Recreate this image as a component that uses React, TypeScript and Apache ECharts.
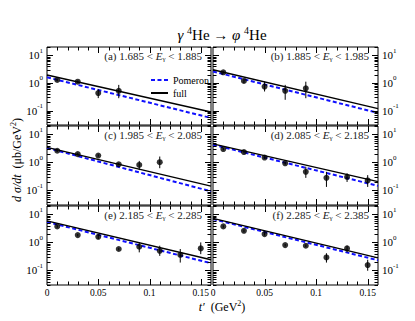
import React, { useEffect, useRef } from 'react';
import * as echarts from 'echarts';

// ---------- data ----------
const panelTags = ['(a)', '(b)', '(c)', '(d)', '(e)', '(f)'];
const eLow = ['1.685', '1.885', '1.985', '2.085', '2.185', '2.285'];
const eHigh = ['1.885', '1.985', '2.085', '2.185', '2.285', '2.385'];

const lineT = [0, 0.16];
const fullA = [1.94, 0.089];
const pomA = [1.6, 0.054];
const fullB = [3.0, 0.118];
const pomB = [2.6, 0.082];
const fullC = [3.44, 0.142];
const pomC = [3.3, 0.092];
const fullD = [4.57, 0.205];
const pomD = [4.3, 0.145];
const fullE = [5.9, 0.24];
const pomE = [5.4, 0.18];
const fullF = [7.2, 0.28];
const pomF = [6.8, 0.23];

const tA = [0.01, 0.03, 0.05, 0.07];
const yA = [1.28, 1.11, 0.43, 0.52];
const loA = [1.15, 1.0, 0.282, 0.28];
const hiA = [1.42, 1.23, 0.594, 0.85];

const tB = [0.01, 0.03, 0.05, 0.07, 0.09];
const yB = [2.42, 1.18, 0.74, 0.52, 0.64];
const loB = [2.2, 0.98, 0.49, 0.245, 0.28];
const hiB = [2.65, 1.38, 1.11, 0.85, 1.11];

const tC = [0.01, 0.03, 0.05, 0.07, 0.09, 0.11];
const yC = [2.61, 1.98, 1.76, 0.86, 0.81, 1.02];
const loC = [2.35, 1.8, 1.6, 0.78, 0.53, 0.62];
const hiC = [2.9, 2.2, 1.95, 0.95, 1.13, 1.62];

const tD = [0.01, 0.03, 0.05, 0.07, 0.09, 0.11, 0.13, 0.15];
const yD = [3.0, 2.34, 1.49, 0.93, 0.46, 0.28, 0.3, 0.226];
const loD = [2.7, 2.1, 1.34, 0.83, 0.28, 0.133, 0.2, 0.133];
const hiD = [3.3, 2.6, 1.65, 1.04, 0.7, 0.46, 0.41, 0.35];

const tE = [0.01, 0.03, 0.05, 0.07, 0.09, 0.11, 0.13, 0.15];
const yE = [3.73, 1.82, 1.58, 0.58, 0.7, 0.5, 0.36, 0.61];
const loE = [3.35, 1.64, 1.3, 0.52, 0.44, 0.33, 0.19, 0.38];
const hiE = [4.1, 2.0, 1.9, 0.64, 1.0, 0.76, 0.58, 1.0];

const tF = [0.01, 0.03, 0.05, 0.07, 0.09, 0.11, 0.13, 0.15];
const yF = [3.73, 2.6, 1.98, 0.8, 0.76, 0.29, 0.61, 0.155];
const loF = [3.35, 2.3, 1.75, 0.72, 0.68, 0.19, 0.44, 0.097];
const hiF = [4.1, 2.9, 2.25, 0.88, 0.84, 0.41, 0.76, 0.24];

const yTickLabels = ['10^-1', '10^0', '10^1'];
const xTickLabels = ['0', '0.05', '0.1', '0.15'];

const panels = [
  { full: fullA, pom: pomA, t: tA, y: yA, lo: loA, hi: hiA },
  { full: fullB, pom: pomB, t: tB, y: yB, lo: loB, hi: hiB },
  { full: fullC, pom: pomC, t: tC, y: yC, lo: loC, hi: hiC },
  { full: fullD, pom: pomD, t: tD, y: yD, lo: loD, hi: hiD },
  { full: fullE, pom: pomE, t: tE, y: yE, lo: loE, hi: hiE },
  { full: fullF, pom: pomF, t: tF, y: yF, lo: loF, hi: hiF },
];

// ---------- layout ----------
const FONT = 'Liberation Serif';
const colLeft = [47, 213];
const colWidth = [164, 165];
const rowTop = [47, 126, 206];
const rowHeight = [78, 79, 79];
const X_MIN = 0;
const X_MAX = 0.16;
const Y_MIN = 0.03;
const Y_MAX = 20;

function isPow10(v: number) {
  const l = Math.log10(v);
  return Math.abs(l - Math.round(l)) < 1e-6;
}

function yLabelFmt(v: number) {
  if (!isPow10(v)) return '';
  const k = Math.round(Math.log10(v));
  const s = '10^' + k;
  if (yTickLabels.indexOf(s) < 0) return '';
  return '{b|10}{s|' + (k < 0 ? '-' + Math.abs(k) : String(k)) + '}';
}

function xLabelFmt(v: number) {
  for (const s of xTickLabels) {
    if (Math.abs(parseFloat(s) - v) < 1e-9) return s;
  }
  return '';
}

function tickRender(_params: any, api: any) {
  const xl = api.coord([X_MIN, 1])[0];
  const xr = api.coord([X_MAX, 1])[0];
  const yb = api.coord([0, Y_MIN])[1];
  const yt = api.coord([0, Y_MAX])[1];
  const children: any[] = [];
  const st = { stroke: '#000', lineWidth: 1 };
  for (let i = 1; i < 16; i++) {
    const v = i * 0.01;
    const major = i % 5 === 0;
    const len = major ? 6 : 3.5;
    const x = Math.round(api.coord([v, 1])[0]) + 0.5;
    children.push({ type: 'line', shape: { x1: x, y1: yb, x2: x, y2: yb - len }, style: st });
    children.push({ type: 'line', shape: { x1: x, y1: yt, x2: x, y2: yt + len }, style: st });
  }
  for (let k = -2; k <= 1; k++) {
    for (let m = 1; m <= 9; m++) {
      const v = m * Math.pow(10, k);
      if (v < Y_MIN || v > Y_MAX) continue;
      const len = m === 1 ? 6 : 3.5;
      const y = Math.round(api.coord([0, v])[1]) + 0.5;
      children.push({ type: 'line', shape: { x1: xl, y1: y, x2: xl + len, y2: y }, style: st });
      children.push({ type: 'line', shape: { x1: xr, y1: y, x2: xr - len, y2: y }, style: st });
    }
  }
  return { type: 'group', children };
}

function errRender(_params: any, api: any) {
  const p1 = api.coord([api.value(0), api.value(1)]);
  const p2 = api.coord([api.value(0), api.value(2)]);
  return {
    type: 'line',
    shape: { x1: p1[0], y1: p1[1], x2: p2[0], y2: p2[1] },
    style: { stroke: '#000', lineWidth: 1 },
  };
}

function buildOption() {
  const grids: any[] = [];
  const xAxes: any[] = [];
  const yAxes: any[] = [];
  const series: any[] = [];
  const graphics: any[] = [];

  panels.forEach((p, i) => {
    const col = i % 2;
    const row = Math.floor(i / 2);
    const left = colLeft[col];
    const top = rowTop[row];
    const width = colWidth[col];
    const height = rowHeight[row];
    grids.push({
      left, top, width, height,
      show: true, borderColor: '#000', borderWidth: 1, backgroundColor: 'transparent',
    });
    xAxes.push({
      type: 'value', gridIndex: i, min: X_MIN, max: X_MAX, interval: 0.05,
      axisLine: { show: false }, axisTick: { show: false }, splitLine: { show: false },
      axisLabel: {
        show: row === 2, formatter: xLabelFmt, margin: 3,
        fontFamily: FONT, fontSize: 9.5, color: '#000',
      },
    });
    yAxes.push({
      type: 'log', logBase: 10, gridIndex: i, min: Y_MIN, max: Y_MAX,
      position: col === 0 ? 'left' : 'right',
      axisLine: { show: false }, axisTick: { show: false }, splitLine: { show: false },
      axisLabel: {
        show: true, formatter: yLabelFmt, margin: 4,
        fontFamily: FONT, color: '#000',
        rich: {
          b: { fontFamily: FONT, fontSize: 11, color: '#000' },
          s: { fontFamily: FONT, fontSize: 7, color: '#000', padding: [0, 0, 9, 0] },
        },
      },
    });
    series.push({
      type: 'custom', name: 'ticks' + i, xAxisIndex: i, yAxisIndex: i, silent: true,
      data: [[0.08, 1]], renderItem: tickRender, z: 5,
    });
    series.push({
      type: 'line', name: 'Pomeron', xAxisIndex: i, yAxisIndex: i,
      data: lineT.map((t, j) => [t, p.pom[j]]),
      symbol: 'none', lineStyle: { color: '#1010ff', width: 2, type: [4, 2.5] },
      itemStyle: { color: '#1010ff' }, z: 2,
    });
    series.push({
      type: 'line', name: 'full', xAxisIndex: i, yAxisIndex: i,
      data: lineT.map((t, j) => [t, p.full[j]]),
      symbol: 'none', lineStyle: { color: '#000', width: 1.4 },
      itemStyle: { color: '#000' }, z: 3,
    });
    series.push({
      type: 'custom', name: 'err' + i, xAxisIndex: i, yAxisIndex: i, silent: true,
      data: p.t.map((t, j) => [t, p.lo[j], p.hi[j]]),
      encode: { x: 0, y: [1, 2] }, renderItem: errRender, z: 4,
    });
    series.push({
      type: 'scatter', name: 'data' + i, xAxisIndex: i, yAxisIndex: i,
      data: p.t.map((t, j) => [t, p.y[j]]),
      symbol: 'circle', symbolSize: 6, itemStyle: { color: '#000' }, z: 4,
    });

    graphics.push({
      type: 'text', x: left + width - 9, y: top + 9,
      style: {
        text: '{n|' + panelTags[i] + ' ' + eLow[i] + ' < }{i|E}{sub|γ}{n| < ' + eHigh[i] + '}',
        align: 'right', verticalAlign: 'middle',
        rich: {
          n: { fontFamily: FONT, fontSize: 11, fill: '#222' },
          i: { fontFamily: FONT, fontSize: 11, fontStyle: 'italic', fill: '#222' },
          sub: { fontFamily: FONT, fontSize: 7, fill: '#222', padding: [5, 0, 0, 0] },
        },
      },
    });
  });

  // title
  graphics.push({
    type: 'text', x: 222, y: 35,
    style: {
      text: '{i|γ }{sup|4}{n|He → }{i|φ }{sup|4}{n|He}',
      align: 'center', verticalAlign: 'middle',
      rich: {
        n: { fontFamily: FONT, fontSize: 15, fill: '#000' },
        i: { fontFamily: FONT, fontSize: 15, fontStyle: 'italic', fill: '#000' },
        sup: { fontFamily: FONT, fontSize: 10, fill: '#000', padding: [0, 0, 10, 0] },
      },
    },
  });
  // x axis title
  graphics.push({
    type: 'text', x: 222, y: 307,
    style: {
      text: '{i|t′}{n|  (GeV}{sup|2}{n|)}',
      align: 'center', verticalAlign: 'middle',
      rich: {
        n: { fontFamily: FONT, fontSize: 12, fill: '#000' },
        i: { fontFamily: FONT, fontSize: 12, fontStyle: 'italic', fill: '#000' },
        sup: { fontFamily: FONT, fontSize: 8, fill: '#000', padding: [0, 0, 8, 0] },
      },
    },
  });
  // y axis title
  graphics.push({
    type: 'text', x: 17, y: 160, rotation: Math.PI / 2,
    style: {
      text: '{i|d σ/dt}{n|  (μb/GeV}{sup|2}{n|)}',
      align: 'center', verticalAlign: 'middle',
      rich: {
        n: { fontFamily: FONT, fontSize: 12, fill: '#000' },
        i: { fontFamily: FONT, fontSize: 12, fontStyle: 'italic', fill: '#000' },
        sup: { fontFamily: FONT, fontSize: 8, fill: '#000', padding: [0, 0, 8, 0] },
      },
    },
  });

  return {
    animation: false,
    backgroundColor: '#fff',
    grid: grids,
    xAxis: xAxes,
    yAxis: yAxes,
    series,
    graphic: graphics,
    legend: {
      data: ['Pomeron', 'full'],
      orient: 'vertical', left: 145, top: 70,
      itemWidth: 17, itemHeight: 10, itemGap: 3,
      selectedMode: false,
      itemStyle: { opacity: 0 },
      textStyle: { fontFamily: FONT, fontSize: 10, color: '#000' },
    },
  };
}

export default function App() {
  const ref = useRef<HTMLDivElement>(null);
  useEffect(() => {
    if (!ref.current) return;
    const chart = echarts.init(ref.current, undefined, { renderer: 'svg' });
    chart.setOption(buildOption() as any);
    return () => chart.dispose();
  }, []);
  return (
    <div
      ref={ref}
      style={{ position: 'absolute', left: 0, top: 0, width: 415, height: 321 }}
    />
  );
}
